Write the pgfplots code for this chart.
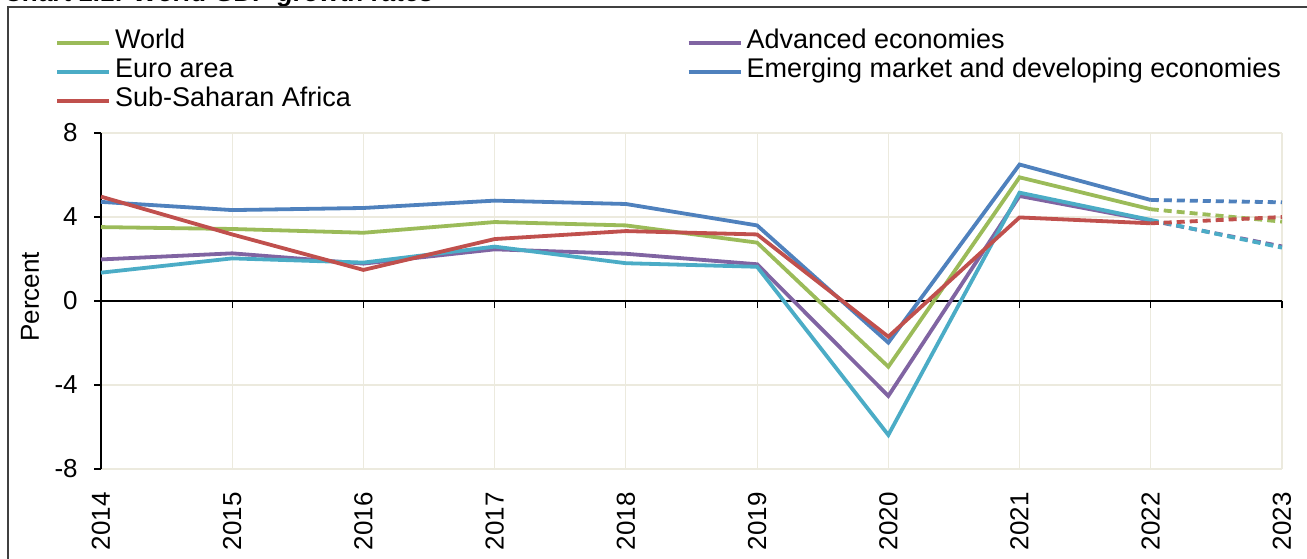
\documentclass[border=0pt]{standalone}
\usepackage{fontspec}
\setmainfont{Liberation Sans}
\usepackage{pgfplots}
\usepackage{pgfplotstable}
\pgfplotsset{compat=1.18}

\definecolor{cworld}{HTML}{9BBB59}
\definecolor{cadv}{HTML}{8064A2}
\definecolor{ceuro}{HTML}{4BACC6}
\definecolor{cemde}{HTML}{4F81BD}
\definecolor{cssa}{HTML}{C0504D}
\definecolor{gridc}{RGB}{236,234,222}

% outturns 2014-2022
\pgfplotstableread{
year world adv euro emde ssa
2014 3.52 1.98 1.35 4.72 4.97
2015 3.43 2.27 2.03 4.33 3.17
2016 3.25 1.78 1.83 4.43 1.48
2017 3.76 2.46 2.59 4.78 2.95
2018 3.60 2.25 1.80 4.62 3.33
2019 2.78 1.75 1.63 3.60 3.17
2020 -3.13 -4.52 -6.38 -1.98 -1.70
2021 5.89 5.00 5.16 6.50 3.98
2022 4.37 3.83 3.86 4.81 3.70
}\gdp
% projection
\pgfplotstableread{
year world adv euro emde ssa
2022 4.37 3.83 3.86 4.81 3.70
2023 3.78 2.60 2.54 4.70 4.00
}\proj

\newcommand{\fs}{\fontsize{13}{15}\selectfont}

\begin{document}
\begin{tikzpicture}
\path[use as bounding box, clip] (0,0) rectangle (653.5pt,279pt);
% clipped title and frame
\node[anchor=base west, inner sep=0pt, font=\fs\bfseries\itshape] at (2pt,278.2pt) {Chart 1.1: World GDP growth rates};
\draw[black!75, line width=0.8pt] (4pt,-10pt) rectangle (670pt,275.5pt);

\begin{axis}[
  at={(50.5pt,44.5pt)}, anchor=south west,
  scale only axis, width=590.5pt, height=168pt,
  xmin=2014, xmax=2023, ymin=-8, ymax=8,
  xtick={2014,2015,...,2023},
  ytick={-8,-4,0,4,8},
  yticklabels={-8,-4,0,4,8},
  axis x line*=bottom, axis y line*=left,
  x axis line style={draw=gridc, line width=0.6pt},
  y axis line style={draw=black, line width=0.6pt},
  tick align=outside, major tick length=3.5pt,
  ytick style={draw=black, line width=0.6pt},
  xtick style={draw=none},
  grid=major, grid style={draw=gridc, line width=0.6pt},
  tick label style={font=\fs},
  /pgf/number format/assume math mode=true,
  /pgf/number format/1000 sep={},
  xticklabel style={rotate=90, anchor=east, inner sep=0pt, xshift=-8pt},
  yticklabel style={anchor=east, inner sep=0pt, xshift=-8pt},
  ylabel={Percent},
  every axis y label/.style={at={(axis description cs:-0.0601,0.512)}, anchor=center, rotate=90, font=\fs},
  clip=false,
  legend columns=2,
  legend cell align=left,
  legend style={at={(axis description cs:-0.03895,1.3113)}, anchor=north west,
    draw=none, fill=none, inner sep=0pt, font=\fontsize{13.5}{15}\selectfont,
    nodes={inner sep=0pt, text height=10pt, text depth=4.5pt},
    /tikz/every odd column/.append style={column sep=2pt},
    /tikz/every even column/.append style={column sep=168pt}},
  legend image code/.code={\draw[#1] (0pt,0pt) -- (26pt,0pt);},
  every axis plot/.append style={line width=1.9pt},
]
\addlegendimage{cworld, line width=1.9pt}
\addlegendentry{World}
\addlegendimage{cadv, line width=1.9pt}
\addlegendentry{Advanced economies}
\addlegendimage{ceuro, line width=1.9pt}
\addlegendentry{Euro area}
\addlegendimage{cemde, line width=1.9pt}
\addlegendentry{Emerging market and developing economies}
\addlegendimage{cssa, line width=1.9pt}
\addlegendentry{Sub-Saharan Africa}

\draw[black, line width=0.6pt] (axis cs:2014,0) -- (axis cs:2023,0);
\pgfplotsinvokeforeach{2014,2015,2016,2017,2018,2019,2020,2021,2022,2023}{
  \draw[black, line width=0.6pt] (axis cs:#1,0) -- ++(0pt,-3.5pt);
}

\addplot[cadv, forget plot] table[x=year, y=adv] {\gdp};
\addplot[ceuro, forget plot] table[x=year, y=euro] {\gdp};
\addplot[cworld, forget plot] table[x=year, y=world] {\gdp};
\addplot[cemde, forget plot] table[x=year, y=emde] {\gdp};
\addplot[cssa, forget plot] table[x=year, y=ssa] {\gdp};

\addplot[cadv, dash pattern=on 4pt off 2.5pt, forget plot] table[x=year, y=adv] {\proj};
\addplot[ceuro, dash pattern=on 4pt off 2.5pt, forget plot] table[x=year, y=euro] {\proj};
\addplot[cworld, dash pattern=on 4pt off 2.5pt, forget plot] table[x=year, y=world] {\proj};
\addplot[cemde, dash pattern=on 4pt off 2.5pt, forget plot] table[x=year, y=emde] {\proj};
\addplot[cssa, dash pattern=on 4pt off 2.5pt, forget plot] table[x=year, y=ssa] {\proj};
\end{axis}
\end{tikzpicture}
\end{document}
